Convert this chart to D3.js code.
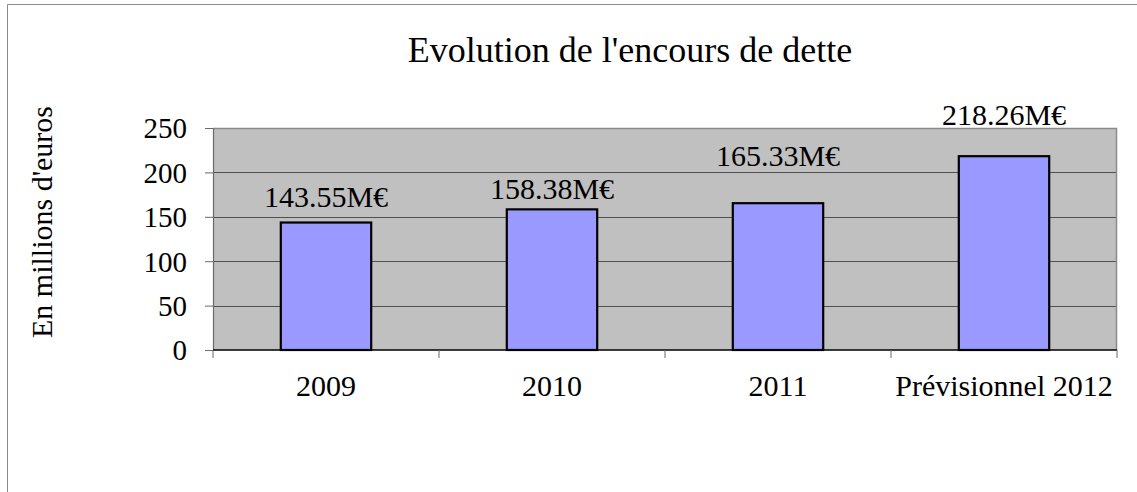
<!DOCTYPE html>
<html>
<head>
<meta charset="utf-8">
<script src="https://cdn.jsdelivr.net/npm/d3@7"></script>
<style>
  html, body { margin: 0; padding: 0; background: #fff; }
  svg { display: block; font-family: "Liberation Serif", "Times New Roman", serif; }
</style>
</head>
<body>
<svg id="chart" width="1137" height="492"></svg>
<script>
// Outstanding debt, in millions of euros
const categories = ["2009", "2010", "2011", "Prévisionnel 2012"];
const debtValues = [143.55, 158.38, 165.33, 218.26];
const valueLabels = ["143.55M€", "158.38M€", "165.33M€", "218.26M€"];
const yTicks = [0, 50, 100, 150, 200, 250];

// Hand-placed lift of each value label above its bar (px)
const labelLift = [16, 10, 37, 31];

const svg = d3.select("#chart");
const plot = { left: 213, right: 1117, top: 128, bottom: 350 };

// Frame around the chart object
svg.append("path")
  .attr("d", `M7.5,492 V4.5 H1137`)
  .attr("fill", "none")
  .attr("stroke", "#8a8a8a")
  .attr("stroke-width", 1);

const x = d3.scaleBand()
  .domain(categories)
  .range([plot.left, plot.right])
  .paddingInner(0.6)
  .paddingOuter(0.3);

const y = d3.scaleLinear()
  .domain([0, 250])
  .range([plot.bottom, plot.top]);

// Plot area
svg.append("rect")
  .attr("x", plot.left).attr("y", plot.top)
  .attr("width", plot.right - plot.left)
  .attr("height", plot.bottom - plot.top)
  .attr("fill", "#c0c0c0");

// Horizontal gridlines
svg.append("g")
  .selectAll("line")
  .data(yTicks.filter(t => t > 0 && t < 250))
  .join("line")
  .attr("x1", plot.left).attr("x2", plot.right)
  .attr("y1", d => Math.round(y(d)) + 0.5)
  .attr("y2", d => Math.round(y(d)) + 0.5)
  .attr("stroke", "#505050")
  .attr("stroke-width", 1);

// Plot border (top and right)
svg.append("path")
  .attr("d", `M${plot.left},${plot.top + 0.5} H${plot.right - 0.5} V${plot.bottom}`)
  .attr("fill", "none")
  .attr("stroke", "#8a8a8a")
  .attr("stroke-width", 1.5);

// Y axis
const yAxis = d3.axisLeft(y)
  .tickValues(yTicks)
  .tickSize(8)
  .tickPadding(18)
  .tickFormat(d3.format("d"));

const gy = svg.append("g")
  .attr("transform", `translate(${plot.left},0)`)
  .call(yAxis);
gy.select(".domain").attr("stroke", "#6a6a6a").attr("stroke-width", 1.2);
gy.selectAll(".tick line").attr("stroke", "#6a6a6a");
gy.selectAll(".tick text")
  .attr("font-family", "Liberation Serif, Times New Roman, serif")
  .attr("font-size", 29)
  .attr("fill", "#000")
  .attr("dy", "0.34em");

// Bars
svg.append("g")
  .selectAll("rect")
  .data(debtValues)
  .join("rect")
  .attr("x", (d, i) => x(categories[i]))
  .attr("y", d => y(d))
  .attr("width", x.bandwidth())
  .attr("height", d => y(0) - y(d))
  .attr("fill", "#9999ff")
  .attr("stroke", "#000")
  .attr("stroke-width", 2.2);

// X axis line
svg.append("line")
  .attr("x1", plot.left).attr("x2", plot.right)
  .attr("y1", plot.bottom).attr("y2", plot.bottom)
  .attr("stroke", "#000")
  .attr("stroke-width", 1.5);

// Category boundary ticks
const step = x.step();
svg.append("g")
  .selectAll("line")
  .data(d3.range(categories.length + 1))
  .join("line")
  .attr("x1", i => plot.left + i * step)
  .attr("x2", i => plot.left + i * step)
  .attr("y1", plot.bottom)
  .attr("y2", plot.bottom + 8)
  .attr("stroke", "#6a6a6a")
  .attr("stroke-width", 1);

// Category labels
svg.append("g")
  .selectAll("text")
  .data(categories)
  .join("text")
  .attr("x", d => x(d) + x.bandwidth() / 2)
  .attr("y", 396)
  .attr("text-anchor", "middle")
  .attr("font-size", 30)
  .attr("fill", "#000")
  .text(d => d);

// Value labels
svg.append("g")
  .selectAll("text")
  .data(debtValues)
  .join("text")
  .attr("x", (d, i) => x(categories[i]) + x.bandwidth() / 2)
  .attr("y", (d, i) => y(d) - labelLift[i])
  .attr("text-anchor", "middle")
  .attr("font-size", 30)
  .attr("fill", "#000")
  .text((d, i) => valueLabels[i]);

// Title
svg.append("text")
  .attr("x", 630)
  .attr("y", 62)
  .attr("text-anchor", "middle")
  .attr("font-size", 36)
  .attr("fill", "#000")
  .text("Evolution de l'encours de dette");

// Y axis title
svg.append("text")
  .attr("transform", `translate(52,222) rotate(-90)`)
  .attr("text-anchor", "middle")
  .attr("font-size", 30)
  .attr("fill", "#000")
  .text("En millions d'euros");
</script>
</body>
</html>
